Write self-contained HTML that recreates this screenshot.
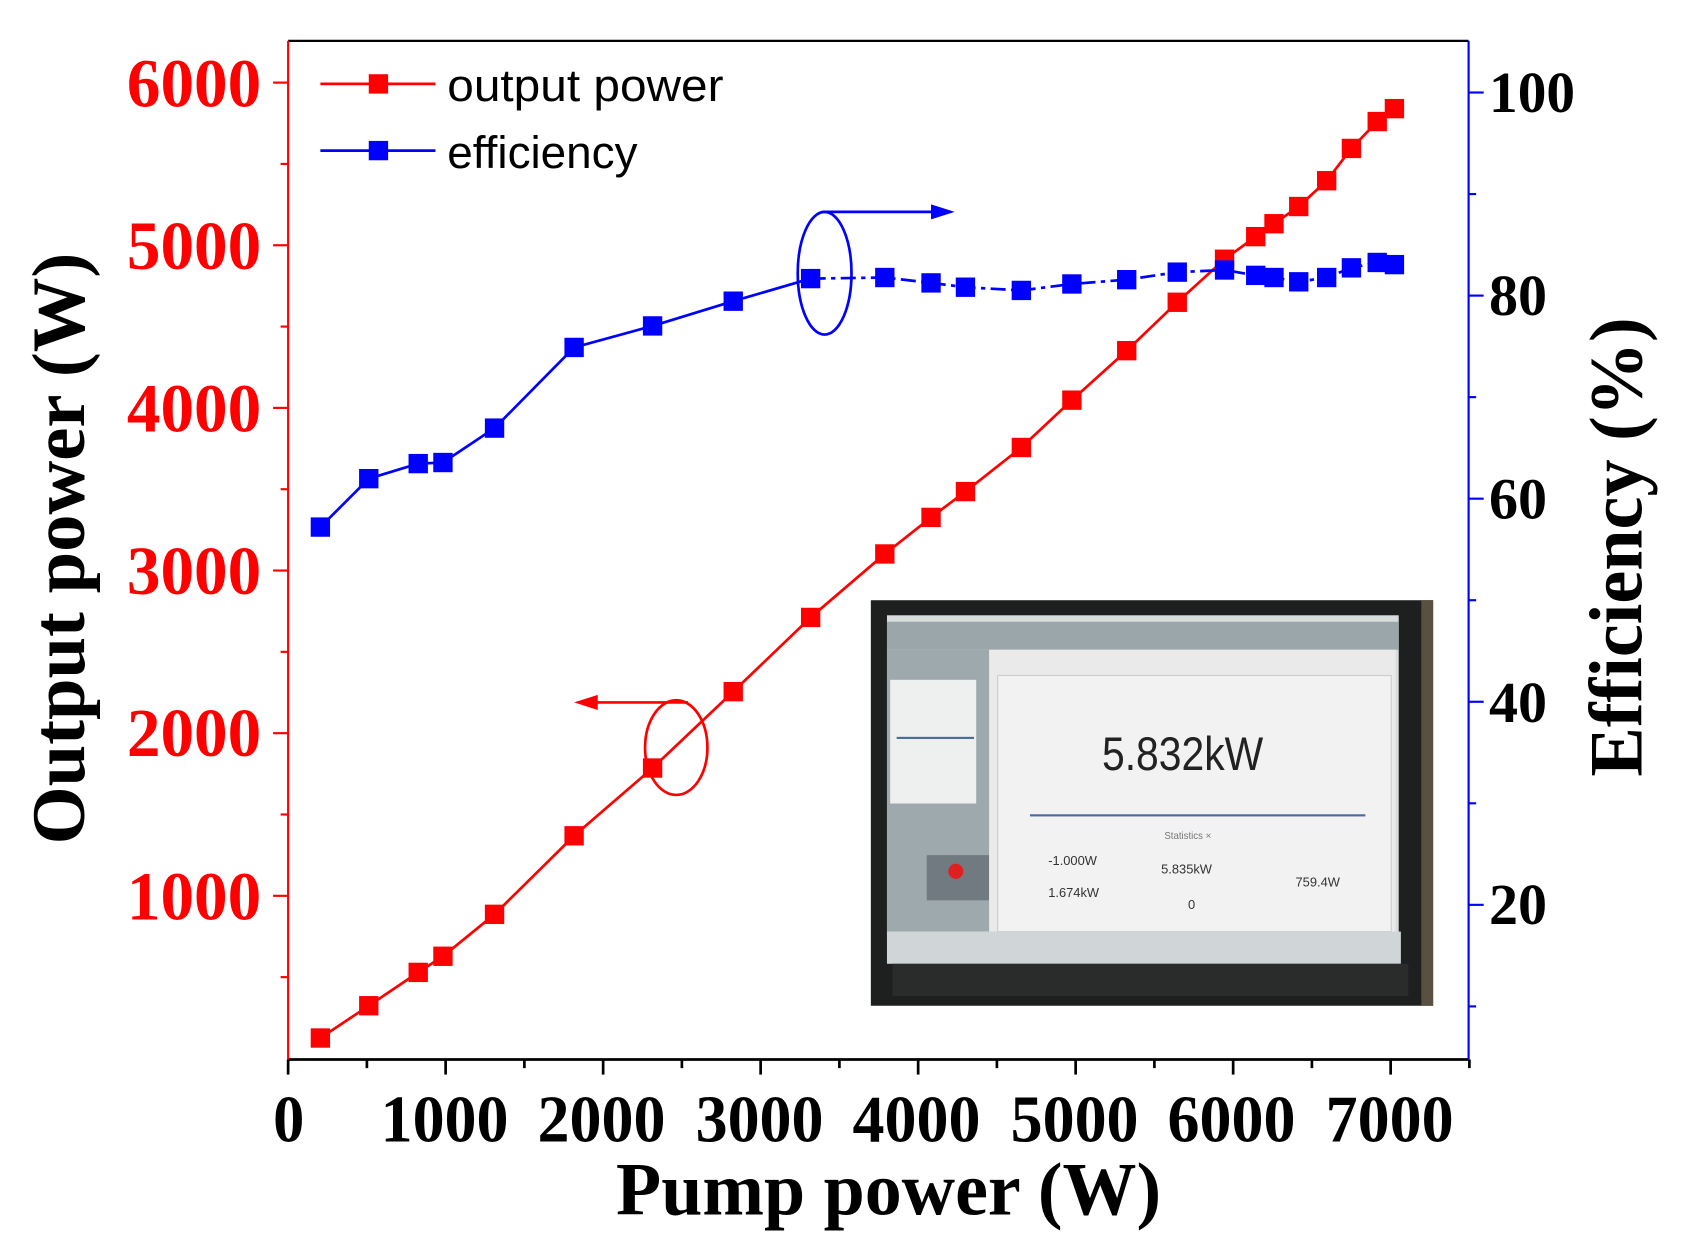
<!DOCTYPE html>
<html><head><meta charset="utf-8"><style>
html,body{margin:0;padding:0;background:#fff;}
svg{display:block;}
</style></head><body>
<svg id="s" xmlns="http://www.w3.org/2000/svg" width="1689" height="1251" viewBox="0 0 1571 1163" preserveAspectRatio="none">
<rect width="1571" height="1163" fill="#fff"/>
<g id="ticks"></g>
<!-- inset photo -->
<g>
<rect x="810" y="558" width="523" height="377" fill="#1e1f1f"/>
<rect x="1322" y="558" width="11" height="377" fill="#5a5040"/>
<rect x="825" y="572" width="476" height="300" fill="#d9dcdc"/>
<rect x="825" y="578" width="476" height="26" fill="#9aa6aa"/>
<rect x="825" y="604" width="100" height="262" fill="#9ea9ad"/>
<rect x="828" y="632" width="80" height="115" fill="#eef0ef"/>
<rect x="834" y="685" width="72" height="2" fill="#4a6aa0"/>
<rect x="862" y="795" width="58" height="42" fill="#707a80"/>
<circle cx="889" cy="810" r="7" fill="#e02020"/>
<rect x="920" y="604" width="378" height="266" fill="#eaeaea"/>
<rect x="928" y="628" width="366" height="238" fill="#f2f2f2" stroke="#ccc"/>
<rect x="958" y="757" width="312" height="2" fill="#4a6aa0"/>
<rect x="825" y="866" width="478" height="30" fill="#d0d6d8"/>
<rect x="830" y="896" width="480" height="30" fill="#2a2b2b"/>
<text x="1025" y="716" font-family="Liberation Sans, sans-serif" font-size="44" fill="#222" textLength="150" lengthAdjust="spacingAndGlyphs">5.832kW</text>
<g font-family="Liberation Sans, sans-serif" font-size="12" fill="#333">
<text x="975" y="804">-1.000W</text><text x="975" y="834">1.674kW</text>
<text x="1080" y="812">5.835kW</text><text x="1105" y="845">0</text>
<text x="1205" y="824">759.4W</text>
<text x="1083" y="780" font-size="9" fill="#777">Statistics ×</text>
</g>
</g>
<!-- frame -->
<line x1="268" y1="38" x2="1366" y2="38" stroke="#000" stroke-width="2"/>
<line x1="268" y1="985" x2="1366" y2="985" stroke="#000" stroke-width="2.5"/>
<line x1="268" y1="38" x2="268" y2="985" stroke="#f00" stroke-width="2"/>
<line x1="1366" y1="38" x2="1366" y2="985" stroke="#00f" stroke-width="2"/>
<g id="data"></g>
<!-- annotations -->
<ellipse cx="767" cy="254" rx="25" ry="57" fill="none" stroke="#00f" stroke-width="2.5"/>
<line x1="765" y1="197" x2="872" y2="197" stroke="#00f" stroke-width="2.5"/>
<polygon points="888,197 866,190 866,204" fill="#00f"/>
<ellipse cx="629" cy="695" rx="29" ry="44" fill="none" stroke="#f00" stroke-width="2.5"/>
<line x1="640" y1="653" x2="552" y2="653" stroke="#f00" stroke-width="2.5"/>
<polygon points="534,653 556,646 556,660" fill="#f00"/>
<!-- legend -->
<line x1="298" y1="78" x2="405" y2="78" stroke="#f00" stroke-width="2.5"/>
<rect x="343" y="69" width="18" height="18" fill="#f00"/>
<line x1="298" y1="140" x2="405" y2="140" stroke="#00f" stroke-width="2.5"/>
<rect x="343" y="131" width="18" height="18" fill="#00f"/>
<g font-family="Liberation Sans, sans-serif" font-size="42" fill="#000" lengthAdjust="spacingAndGlyphs">
<text x="416" y="94" textLength="257" lengthAdjust="spacingAndGlyphs">output power</text>
<text x="416" y="156" textLength="177" lengthAdjust="spacingAndGlyphs">efficiency</text>
</g>
<!-- labels -->
<g font-family="Liberation Serif, serif" font-weight="bold" font-size="64" fill="#f00">
<text x="118" y="99" textLength="125" lengthAdjust="spacingAndGlyphs">6000</text>
<text x="118" y="250" textLength="125" lengthAdjust="spacingAndGlyphs">5000</text>
<text x="118" y="401" textLength="125" lengthAdjust="spacingAndGlyphs">4000</text>
<text x="118" y="552" textLength="125" lengthAdjust="spacingAndGlyphs">3000</text>
<text x="118" y="703" textLength="125" lengthAdjust="spacingAndGlyphs">2000</text>
<text x="118" y="855" textLength="125" lengthAdjust="spacingAndGlyphs">1000</text>
</g>
<g font-family="Liberation Serif, serif" font-weight="bold" font-size="54" fill="#000">
<text x="1385" y="104" textLength="80" lengthAdjust="spacingAndGlyphs">100</text>
<text x="1385" y="293" textLength="54" lengthAdjust="spacingAndGlyphs">80</text>
<text x="1385" y="482" textLength="54" lengthAdjust="spacingAndGlyphs">60</text>
<text x="1385" y="671" textLength="54" lengthAdjust="spacingAndGlyphs">40</text>
<text x="1385" y="859" textLength="54" lengthAdjust="spacingAndGlyphs">20</text>
</g>
<g font-family="Liberation Serif, serif" font-weight="bold" font-size="62" fill="#000">
<text x="254" y="1061" textLength="29" lengthAdjust="spacingAndGlyphs">0</text>
<text x="354" y="1061" textLength="119" lengthAdjust="spacingAndGlyphs">1000</text>
<text x="500" y="1061" textLength="119" lengthAdjust="spacingAndGlyphs">2000</text>
<text x="647" y="1061" textLength="119" lengthAdjust="spacingAndGlyphs">3000</text>
<text x="793" y="1061" textLength="119" lengthAdjust="spacingAndGlyphs">4000</text>
<text x="940" y="1061" textLength="119" lengthAdjust="spacingAndGlyphs">5000</text>
<text x="1086" y="1061" textLength="119" lengthAdjust="spacingAndGlyphs">6000</text>
<text x="1233" y="1061" textLength="119" lengthAdjust="spacingAndGlyphs">7000</text>
</g>
<text x="573" y="1129" font-family="Liberation Serif, serif" font-weight="bold" font-size="70" textLength="507" lengthAdjust="spacingAndGlyphs">Pump power (W)</text>
<text transform="translate(78,785) rotate(-90)" font-family="Liberation Serif, serif" font-weight="bold" font-size="70" textLength="550" lengthAdjust="spacingAndGlyphs">Output power (W)</text>
<text transform="translate(1527,722) rotate(-90)" font-family="Liberation Serif, serif" font-weight="bold" font-size="70" textLength="427" lengthAdjust="spacingAndGlyphs">Efficiency (%)</text>
</svg>
<script>
var NS="http://www.w3.org/2000/svg";
function el(p,t,a){var e=document.createElementNS(NS,t);for(var k in a)e.setAttribute(k,a[k]);p.appendChild(e);return e;}
var T=document.getElementById("ticks");
for(var v=0;v<=7500;v+=500){var x=268+v*0.1465;el(T,"line",{x1:x,y1:985,x2:x,y2:985+(v%1000==0?14:8),stroke:"#000","stroke-width":2.5});}
for(var v=500;v<=6000;v+=500){var y=984-v*0.1512;el(T,"line",{x1:268,y1:y,x2:268-(v%1000==0?14:7),y2:y,stroke:"#f00","stroke-width":2});}
for(var v=10;v<=100;v+=10){var y=1030-v*9.44;el(T,"line",{x1:1366,y1:y,x2:1366+(v%20==0?14:7),y2:y,stroke:"#00f","stroke-width":2});}
var xs=[298,343,389,412,460,534,607,682,754,823,866,898,950,997,1048,1095,1139,1168,1185,1208,1234,1257,1281,1297];
var r=[965,935,904,889,850,777,714,643,574,515,481,457,416,372,326,281,241,220,208,192,168,138,113,101];
var b=[490,445,431,430,398,323,303,280,259,258,263,267,270,264,260,253,251,256,258,262,258,249,244,246];
var D=document.getElementById("data");
function series(ys,c){
 var p1=[],p2=[];
 for(var i=0;i<xs.length;i++){
   if(c!="#00f"||i<=8)p1.push(xs[i]+","+ys[i]);
   if(c=="#00f"&&i>=8)p2.push(xs[i]+","+ys[i]);
 }
 el(D,"polyline",{points:p1.join(" "),fill:"none",stroke:c,"stroke-width":2.5});
 if(p2.length)el(D,"polyline",{points:p2.join(" "),fill:"none",stroke:c,"stroke-width":2.5,"stroke-dasharray":"14 5 4 5"});
 for(var i=0;i<xs.length;i++)el(D,"rect",{x:xs[i]-9,y:ys[i]-9,width:18,height:18,fill:c});
}
series(r,"#f00");series(b,"#00f");
</script>
</body></html>
